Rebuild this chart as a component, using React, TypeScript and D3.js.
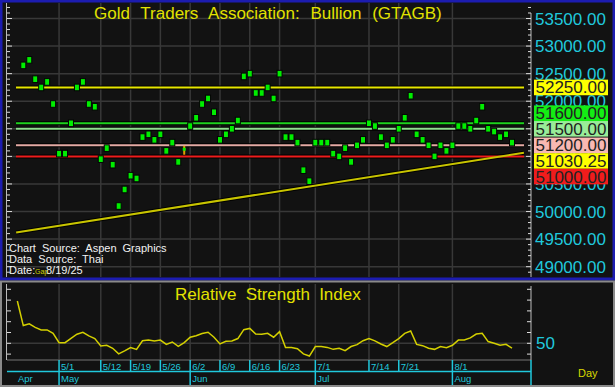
import React from "react";
import * as d3 from "d3";

// daily bars, 4/23 .. last bar (mid price of each small high-low bar)
const closes = [
  52650, 52750, 52400, 52250, 52350, 51950, 51050, 51050, 51600, 52250,
  52350, 51950, 51900, 50950, 51150, 50850, 50100, 50400, 50650, 50600,
  51350, 51400, 51300, 51400, 51100, 51250, 50900, 51130, 51550, 51700,
  51950, 52050, 51800, 51300, 51400, 51500, 51650, 52450, 52500, 52150,
  52150, 52250, 52050, 52500, 51350, 51350, 51250, 50750, 50550, 51250,
  51250, 51250, 51050, 51000, 51150, 50900, 51200, 51300, 51600, 51550,
  51350, 51200, 51300, 51500, 51700, 52100, 51400, 51300, 51200, 51000,
  51200, 51100, 51200, 51550, 51550, 51500, 51650, 51900, 51500, 51450,
  51350, 51400, 51250,
];
const barHalfRange = 60;
// the one doji bar drawn in orange
const dojiIndex = 27;
const dojiHigh = 51190;
const dojiLow = 51030;

// RSI, first value one day before the first bar
const rsiValues = [
  69.6, 58.2, 59.0, 57.4, 56.2, 56.2, 54.6, 50.3, 50.3, 52.3,
  54.2, 55.1, 53.4, 52.2, 48.8, 49.1, 47.7, 45.1, 46.5, 48.0,
  47.2, 51.2, 51.5, 51.1, 51.5, 49.5, 50.6, 48.6, 50.3, 52.8,
  53.5, 54.5, 55.1, 52.8, 49.7, 50.9, 51.1, 52.2, 56.3, 56.9,
  54.3, 54.2, 54.6, 52.8, 55.4, 48.1, 48.0, 47.5, 45.1, 44.1,
  48.5, 48.5, 48.1, 47.2, 47.7, 46.6, 48.5, 49.4, 51.2, 52.2,
  51.1, 49.7, 48.5, 50.3, 52.2, 54.6, 55.7, 49.5, 48.9, 47.7,
  47.2, 48.5, 48.0, 49.1, 51.5, 51.5, 52.5, 54.3, 54.6, 50.8,
  50.0, 49.1, 49.5, 47.8,
];

const dayLabels = ["5/1", "5/12", "5/19", "5/26", "6/2", "6/9", "6/16", "6/23", "7/1", "7/14", "7/21", "8/1"];
const dayIndex = [6, 13, 18, 23, 28, 33, 38, 43, 49, 58, 63, 72];
const monthLabels = ["Apr", "May", "Jun", "Jul", "Aug"];
const monthIndex = [-1.2, 6, 28, 49, 72];

const levels = [52250, 51600, 51500, 51200, 51000];
const levelColors = ["#e6e600", "#1ed21e", "#8fdc8f", "#e4aaa4", "#ee1c1c"];
const levelFills = ["#ffff00", "#14ee14", "#98ec98", "#f8b8b2", "#f01c1c"];

const trendFrom = { i: -1.2, v: 49620 };
const trendTo = { i: 82, v: 51030.25 };
const trendEndIndex = 84;

const W = 615;
const H = 387;
const plotL = 7;
const plotR = 531;
const mainTop = 3;
const mainBottom = 277;
const rsiTop = 284;
const rsiBottom = 360;
const font = "'Liberation Sans', Arial, sans-serif";
const cyan = "#20c8dc";
const grid = "#383838";

const x = d3.scaleLinear().domain([0, 82]).range([23.3, 512]);
const y = d3.scaleLinear().domain([49000, 53500]).range([266.7, 18.5]);
const ry = d3.scaleLinear().domain([50, 75]).range([343.3, 289.3]);

// stack the right-hand value boxes so they do not overlap
function placeLabels(items: { v: number; fill: string; text: string }[], h: number) {
  const placed: { y: number; fill: string; text: string }[] = [];
  items.forEach((it) => {
    const y0 = y(it.v);
    const free = (c: number) => placed.every((p) => Math.abs(p.y - c) >= h - 0.01);
    const cands = [y0, ...placed.flatMap((p) => [p.y - h, p.y + h])].filter(free);
    cands.sort((a, b) => Math.abs(a - y0) - Math.abs(b - y0));
    placed.push({ y: cands.length ? cands[0] : y0, fill: it.fill, text: it.text });
  });
  return placed;
}

export default function App() {
  const trendSlope = (trendTo.v - trendFrom.v) / (trendTo.i - trendFrom.i);
  const trendEndV = trendTo.v + trendSlope * (trendEndIndex - trendTo.i);

  const labelOrder = [
    { v: 51500, fill: levelFills[2], text: "51500.00" },
    { v: 51200, fill: levelFills[3], text: "51200.00" },
    { v: 51600, fill: levelFills[1], text: "51600.00" },
    { v: trendTo.v, fill: "#ffff00", text: trendTo.v.toFixed(2) },
    { v: 51000, fill: levelFills[4], text: "51000.00" },
    { v: 52250, fill: levelFills[0], text: "52250.00" },
  ];
  const boxes = placeLabels(labelOrder, 15.6);

  const majorTicks = d3.range(49000, 53501, 500);
  const minorTicks = d3.range(48900, 53800, 100);
  const rsiTicks = d3.range(45, 76, 5);

  const rsiLine = d3
    .line<number>()
    .x((_, i) => x(i - 1))
    .y((d) => ry(d));

  return (
    <svg width={W} height={H} style={{ position: "absolute", left: 0, top: 0 }} fontFamily={font}>
      <rect x={0} y={0} width={W} height={H} fill="#121212" />

      {/* main panel frame */}
      <rect x={1} y={1} width={W - 2} height={mainBottom + 1} fill="none" stroke="#1c1cb0" strokeWidth={3} />

      {/* grid */}
      {majorTicks.map((t) => (
        <line key={"g" + t} x1={plotL} x2={plotR} y1={y(t)} y2={y(t)} stroke={grid} strokeWidth={1.5} />
      ))}
      {dayIndex.map((i) => (
        <g key={"vg" + i}>
          <line x1={x(i)} x2={x(i)} y1={mainTop} y2={mainBottom} stroke={grid} strokeWidth={1.5} />
          <line x1={x(i)} x2={x(i)} y1={rsiTop} y2={rsiBottom} stroke={grid} strokeWidth={1.5} />
        </g>
      ))}

      {/* axes of main panel */}
      <line x1={plotL - 0.5} x2={plotL - 0.5} y1={mainTop} y2={mainBottom} stroke="#bbb" />
      <line x1={plotR} x2={plotR} y1={mainTop + 10} y2={mainBottom} stroke="#bbb" />
      {minorTicks.map((t) => {
        const big = t % 500 === 0;
        return (
          <g key={"t" + t}>
            <line x1={plotL} x2={plotL + (big ? 5 : 3)} y1={y(t)} y2={y(t)} stroke="#ddd" />
            <line x1={plotR} x2={plotR - (big ? 5 : 3)} y1={y(t)} y2={y(t)} stroke="#ddd" />
          </g>
        );
      })}
      {majorTicks.map((t) => (
        <text key={"l" + t} x={535} y={y(t) + 6} fill={cyan} fontSize={17}>
          {t.toFixed(2)}
        </text>
      ))}

      {/* title */}
      <text x={94} y={18.5} fill="#e2e200" fontSize={17} style={{ wordSpacing: 6 }}>
        Gold Traders Association: Bullion (GTAGB)
      </text>

      {/* trend line */}
      <line x1={x(trendFrom.i)} x2={x(trendEndIndex)} y1={y(trendFrom.v)} y2={y(trendEndV)} stroke="#000" strokeWidth={4} />
      {/* level lines */}
      {levels.map((v, k) => (
        <g key={"lv" + v}>
          <line x1={16} x2={524} y1={y(v)} y2={y(v)} stroke="#000" strokeWidth={4} />
          <line x1={16} x2={524} y1={y(v)} y2={y(v)} stroke={levelColors[k]} strokeWidth={2} />
        </g>
      ))}
      <line x1={x(trendFrom.i)} x2={x(trendEndIndex)} y1={y(trendFrom.v)} y2={y(trendEndV)} stroke="#c8c400" strokeWidth={2} />

      {/* bars */}
      {closes.map((c, i) =>
        i === dojiIndex ? (
          <g key={"b" + i}>
            <line x1={x(i)} x2={x(i)} y1={y(dojiHigh)} y2={y(dojiLow)} stroke="#e0a000" strokeWidth={2} />
            <rect x={x(i) - 1.5} y={y(c) - 1.5} width={3} height={3} fill="#00ee00" />
          </g>
        ) : (
          <rect
            key={"b" + i}
            x={x(i) - 2.5}
            y={y(c + barHalfRange)}
            width={5}
            height={y(c - barHalfRange) - y(c + barHalfRange)}
            fill="#00ee00"
            stroke="#050505"
            strokeWidth={1}
          />
        )
      )}

      {/* value boxes */}
      {boxes.map((b) => (
        <g key={"bx" + b.text}>
          <rect x={534} y={b.y - 7.8} width={74} height={15.6} fill={b.fill} />
          <text x={535.5} y={b.y + 6} fill="#222" fontSize={17}>
            {b.text}
          </text>
        </g>
      ))}

      {/* source notes */}
      <g fill="#f2f2f2" fontSize={11} style={{ wordSpacing: 3 }}>
        <text x={9} y={252}>Chart Source: Aspen Graphics</text>
        <text x={9} y={263}>Data Source: Thai</text>
        <text x={9} y={274}>Date:</text>
        <text x={46} y={274}>8/19/25</text>
      </g>
      <text x={35} y={274} fill="#d0d000" fontSize={7}>
        Gap
      </text>

      {/* RSI panel */}
      <rect x={1} y={281.5} width={W - 2} height={H - 282.5} fill="none" stroke="#8a8a8a" strokeWidth={2} />
      <line x1={plotL} x2={plotR} y1={ry(50)} y2={ry(50)} stroke={grid} strokeWidth={1.5} />
      <line x1={plotL} x2={plotR} y1={rsiBottom} y2={rsiBottom} stroke="#555" strokeWidth={1.5} />
      <line x1={plotL - 0.5} x2={plotL - 0.5} y1={rsiTop} y2={rsiBottom} stroke="#bbb" />
      <line x1={plotR} x2={plotR} y1={rsiTop + 2} y2={rsiBottom} stroke="#bbb" />
      {rsiTicks.map((t) => (
        <g key={"rt" + t}>
          <line x1={plotL} x2={plotL + 4} y1={ry(t)} y2={ry(t)} stroke="#ddd" />
          <line x1={plotR} x2={plotR - 4} y1={ry(t)} y2={ry(t)} stroke="#ddd" />
        </g>
      ))}
      <text x={175} y={300} fill="#e2e200" fontSize={17} style={{ wordSpacing: 4.5 }}>
        Relative Strength Index
      </text>
      <path d={rsiLine(rsiValues) || ""} fill="none" stroke="#d4d000" strokeWidth={1.5} />
      <text x={536} y={ry(50) + 6} fill={cyan} fontSize={17}>
        50
      </text>

      {/* date strip */}
      <line x1={plotL} x2={plotR} y1={371.5} y2={371.5} stroke={cyan} strokeWidth={1.5} />
      <line x1={plotR} x2={plotR} y1={rsiBottom} y2={385} stroke={cyan} strokeWidth={1.5} />
      {dayIndex.map((i, k) => {
        const monthStart = monthIndex.includes(i);
        return (
          <g key={"d" + i}>
            <line x1={x(i)} x2={x(i)} y1={rsiBottom} y2={monthStart ? 385 : 371.5} stroke={cyan} strokeWidth={1.5} />
            <text x={x(i) + 2} y={370} fill={cyan} fontSize={9.5}>
              {dayLabels[k]}
            </text>
          </g>
        );
      })}
      {monthIndex.map((i, k) => (
        <text key={"m" + k} x={(i < 0 ? 16 : x(i)) + 2} y={381.5} fill={cyan} fontSize={9.5}>
          {monthLabels[k]}
        </text>
      ))}
      <text x={578} y={377} fill="#d8d800" fontSize={11}>
        Day
      </text>
    </svg>
  );
}
